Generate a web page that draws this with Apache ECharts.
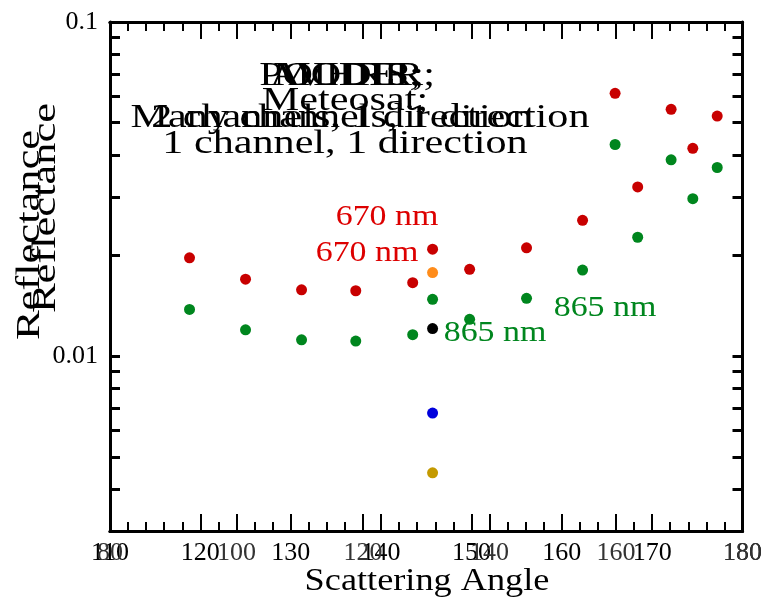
<!DOCTYPE html>
<html>
<head>
<meta charset="utf-8">
<script src="https://cdn.jsdelivr.net/npm/echarts@6/dist/echarts.min.js"></script>
<style>
    html, body { margin: 0; padding: 0; background: #fff; }
    #main { width: 765px; height: 599px; }
</style>
</head>
<body>
<div id="main"></div>
<script>
// scattering angles (on the 110-180 axis) and reflectances
var angles = [118.8, 125.0, 131.2, 137.2, 143.5, 145.7, 149.8, 156.1, 162.3, 165.9, 168.4, 172.1, 174.5, 177.2];
var refl670 = [0.0197, 0.0170, 0.0158, 0.0157, 0.0166, 0.0209, 0.0182, 0.0211, 0.0255, 0.0612, 0.0321, 0.0548, 0.0419, 0.0523];
var refl865 = [0.0138, 0.0120, 0.0112, 0.0111, 0.0116, 0.0148, 0.0129, 0.0149, 0.0181, 0.0430, 0.0227, 0.0387, 0.0296, 0.0367];

// single-direction instruments, all at one angle
var singleAngle = 145.7;
var singleNames = ['orange', 'black', 'blue', 'gold'];
var singleValues = [0.0178, 0.0121, 0.00676, 0.00448];

var yTickValues = [0.003, 0.004, 0.005, 0.006, 0.007, 0.008, 0.009,
    0.01, 0.02, 0.03, 0.04, 0.05, 0.06, 0.07, 0.08, 0.09, 0.1];
var yLabelValues = [0.01, 0.1];

var titleLines = [
    { text: 'POLDER;', x: 347, y: 76 },
    { text: 'AVHRR;', x: 347, y: 76 },
    { text: 'MODIS;', x: 347, y: 76 },
    { text: 'Meteosat;', x: 345, y: 101 },
    { text: 'Many channels, 1 direction', x: 360, y: 118 },
    { text: '2 channels, 1 direction', x: 342, y: 118 },
    { text: '1 channel, 1 direction', x: 345, y: 144 }
];

var singleColors = ['#ff8c1a', '#000000', '#0000dd', '#c49a00'];
var FONT = '"Liberation Serif", "Times New Roman", serif';

var chart = echarts.init(document.getElementById('main'));

function xAxisDef(pos, min, max, interval, showLabel, minor, labelColor) {
    return {
        type: 'value',
        position: pos,
        min: min,
        max: max,
        interval: interval,
        splitLine: { show: false },
        axisLine: { show: true, onZero: false, lineStyle: { color: '#000', width: 3 } },
        axisTick: { show: true, inside: true, length: 17, lineStyle: { color: '#000', width: 2 } },
        minorTick: { show: minor, splitNumber: 5, length: 9, lineStyle: { color: '#000', width: 2 } },
        axisLabel: {
            show: showLabel,
            margin: 9,
            color: labelColor,
            fontFamily: FONT,
            fontSize: 26
        }
    };
}

function yAxisDef(pos, showLabel) {
    return {
        type: 'log',
        logBase: 10,
        position: pos,
        min: 0.003,
        max: 0.1,
        splitLine: { show: false },
        axisLine: { show: true, onZero: false, lineStyle: { color: '#000', width: 3 } },
        axisTick: {
            show: true, inside: true, length: 10,
            customValues: yTickValues,
            lineStyle: { color: '#000', width: 3 }
        },
        axisLabel: {
            show: showLabel,
            customValues: yLabelValues,
            margin: 12,
            color: '#000',
            fontFamily: FONT,
            fontSize: 26,
            formatter: function (v) { return String(v); }
        }
    };
}

var series = [{
    name: '670 nm',
    type: 'scatter',
    symbolSize: 11,
    itemStyle: { color: '#c80000', opacity: 1 },
    data: angles.map(function (a, i) { return [a, refl670[i]]; })
}, {
    name: '865 nm',
    type: 'scatter',
    symbolSize: 11,
    itemStyle: { color: '#00861e', opacity: 1 },
    data: angles.map(function (a, i) { return [a, refl865[i]]; })
}];
singleValues.forEach(function (v, i) {
    series.push({
        name: singleNames[i],
        type: 'scatter',
        symbolSize: 11,
        itemStyle: { color: singleColors[i], opacity: 1 },
        data: [[singleAngle, v]]
    });
});

var graphics = [];
titleLines.forEach(function (t) {
    graphics.push({
        type: 'text', x: t.x, y: t.y, scaleX: 1.24, z: 100,
        style: {
            text: t.text, fill: '#000', fontFamily: FONT, fontSize: 34,
            align: 'center', verticalAlign: 'middle'
        }
    });
});
[
    { text: '670 nm', x: 387, y: 217, color: '#dd0000' },
    { text: '670 nm', x: 367, y: 253, color: '#dd0000' },
    { text: '865 nm', x: 605, y: 308, color: '#00861e' },
    { text: '865 nm', x: 495, y: 333, color: '#00861e' }
].forEach(function (t) {
    graphics.push({
        type: 'text', x: t.x, y: t.y, scaleX: 1.13, z: 100,
        style: {
            text: t.text, fill: t.color, fontFamily: FONT, fontSize: 30,
            align: 'center', verticalAlign: 'middle'
        }
    });
});
graphics.push({
    type: 'text', x: 427, y: 582, scaleX: 1.17,
    style: {
        text: 'Scattering Angle', fill: '#000', fontFamily: FONT, fontSize: 31,
        align: 'center', verticalAlign: 'middle'
    }
});
[{ x: 30, y: 235 }, { x: 46, y: 208 }].forEach(function (p) {
    graphics.push({
        type: 'text', x: p.x, y: p.y, rotation: Math.PI / 2, scaleX: 1.35,
        style: {
            text: 'Reflectance', fill: '#000', fontFamily: FONT, fontSize: 33,
            align: 'center', verticalAlign: 'middle'
        }
    });
});

chart.setOption({
    animation: false,
    backgroundColor: '#fff',
    grid: { left: 110, right: 19, top: 22, bottom: 68, containLabel: false },
    xAxis: [
        xAxisDef('bottom', 110, 180, 10, true, true, '#000'),
        xAxisDef('bottom', 80, 180, 20, true, false, '#333'),
        xAxisDef('top', 110, 180, 10, false, true, '#000'),
        xAxisDef('top', 80, 180, 20, false, false, '#000')
    ],
    yAxis: [
        yAxisDef('left', true),
        yAxisDef('right', false)
    ],
    series: series,
    graphic: graphics
});
</script>
</body>
</html>
